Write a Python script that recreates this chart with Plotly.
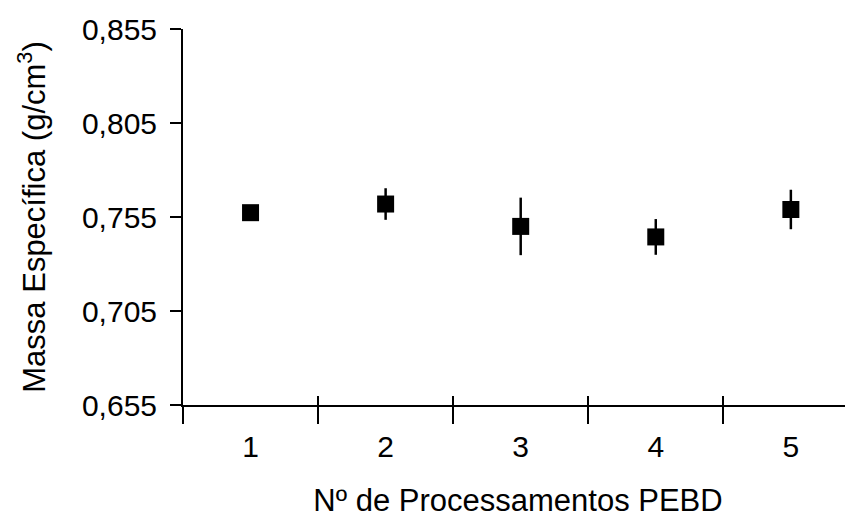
import plotly.graph_objects as go

processamentos = [1, 2, 3, 4, 5]
tick_labels = ["1", "2", "3", "4", "5"]
massa_especifica = [0.7573, 0.7619, 0.7500, 0.7444, 0.7590]
desvio = [0.0025, 0.0084, 0.0153, 0.0095, 0.0105]
y_ticks = [0.655, 0.705, 0.755, 0.805, 0.855]
sep_ticks = [0.5, 1.5, 2.5, 3.5, 4.5]

FONT = "Liberation Sans, Arial, Helvetica, sans-serif"

fig = go.Figure()
fig.add_trace(go.Scatter(
    x=processamentos, y=massa_especifica, mode="markers",
    marker=dict(symbol="square", size=17, color="black"),
    error_y=dict(type="data", array=desvio, visible=True, color="black",
                 thickness=2.5, width=0),
    showlegend=False, hoverinfo="skip",
))
# invisible trace on the overlay axis so its inward ticks get drawn
fig.add_trace(go.Scatter(
    x=processamentos, y=massa_especifica, mode="markers",
    marker=dict(opacity=0), xaxis="x2", showlegend=False, hoverinfo="skip",
))

# page body adds an 8px offset, so the figure is 8px smaller and margins shifted
fig.update_layout(
    width=845, height=510,
    margin=dict(l=175, r=0, t=21, b=113),
    paper_bgcolor="white", plot_bgcolor="white",
    separators=",.",
    font=dict(family=FONT, color="black", size=30),
    xaxis=dict(
        range=[0.5, 5.46], tickvals=processamentos, ticktext=tick_labels,
        ticks="", showgrid=False, zeroline=False,
        showline=True, linecolor="black", linewidth=2,
        tickfont=dict(size=30), ticklabelstandoff=14,
        minor=dict(tickvals=sep_ticks, ticks="outside", ticklen=17,
                   tickwidth=2, tickcolor="black", showgrid=False),
        title=dict(text="Nº de Processamentos PEBD", font=dict(size=31), standoff=27),
    ),
    xaxis2=dict(
        range=[0.5, 5.46], overlaying="x", anchor="y", side="bottom",
        tickvals=sep_ticks, ticks="inside", ticklen=9, tickwidth=2,
        tickcolor="black", showticklabels=False, showgrid=False,
        zeroline=False, showline=False,
    ),
    yaxis=dict(
        range=[0.655, 0.855], tickvals=y_ticks, tickformat=".3f",
        ticks="outside", ticklen=11, tickwidth=2, tickcolor="black",
        showgrid=False, zeroline=False,
        showline=True, linecolor="black", linewidth=2,
        tickfont=dict(size=30), ticklabelstandoff=7,
        title=dict(text="Massa Específica (g/cm<sup>3</sup>)", font=dict(size=31), standoff=27),
    ),
)

fig.write_html("out.html")
